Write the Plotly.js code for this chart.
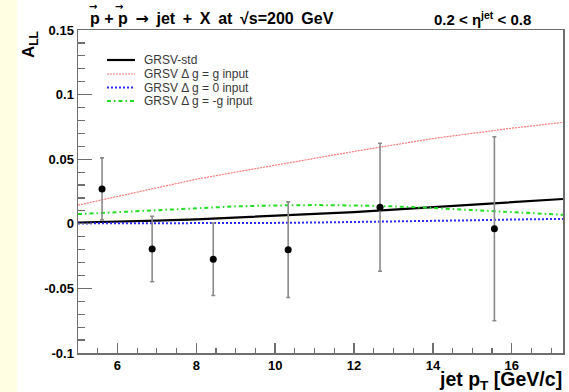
<!DOCTYPE html>
<html>
<head>
<meta charset="utf-8">
<script src="https://cdn.plot.ly/plotly-3.0.1.min.js"></script>
<style>
  html, body { margin: 0; padding: 0; }
  body { background: linear-gradient(to right, #fffee2 0px, #fffee2 17px, #ffffff 17px); }
  #chart { width: 569px; height: 392px; }
</style>
</head>
<body>
<div id="chart"></div>
<script>
// Measured double-spin asymmetry A_LL vs jet pT
const dataPt   = [5.61, 6.88, 8.43, 10.33, 12.66, 15.56];
const dataAll  = [0.027, -0.0195, -0.0275, -0.020, 0.0128, -0.0038];
const dataErr  = [0.024, 0.0254, 0.028, 0.037, 0.0495, 0.0712];

// GRSV theory curves
const curvePt   = [5, 6, 7, 8, 9, 10, 11, 12, 13, 14, 15, 16, 17.3];
const grsvStd   = [0.001, 0.0015, 0.0025, 0.0035, 0.0048, 0.006, 0.0075, 0.009, 0.011, 0.013, 0.015, 0.017, 0.0192];
const grsvMax   = [0.0145, 0.021, 0.028, 0.0345, 0.040, 0.0455, 0.051, 0.056, 0.061, 0.066, 0.070, 0.074, 0.0785];
const grsvZero  = [0.0003, 0.0003, 0.0004, 0.0004, 0.0005, 0.0007, 0.001, 0.0013, 0.0017, 0.0021, 0.0027, 0.0033, 0.0038];
const grsvMin   = [0.0075, 0.009, 0.0105, 0.012, 0.0135, 0.0142, 0.0145, 0.0142, 0.0135, 0.0122, 0.0108, 0.009, 0.007];

const seriesNames = ['GRSV-std', 'GRSV \u0394 g = g input', 'GRSV \u0394 g = 0 input', 'GRSV \u0394 g = -g input'];
const xTicks = [6, 8, 10, 12, 14, 16];
const yTicks = [-0.1, -0.05, 0, 0.05, 0.1, 0.15];
const yTickText = ['-0.1', '-0.05', '0', '0.05', '0.1', '0.15'];

const styles = [
  {color: '#000000', width: 2.2, dash: 'solid'},
  {color: '#ff7a7a', width: 1.2, dash: '2px,1px'},
  {color: '#2a2aff', width: 2, dash: '2px,2px'},
  {color: '#22dd22', width: 2, dash: '4px,3px,1.5px,3px'}
];
const curves = [grsvStd, grsvMax, grsvZero, grsvMin];

const traces = curves.map((ys, i) => ({
  x: curvePt, y: ys, type: 'scatter', mode: 'lines', name: seriesNames[i],
  line: {color: styles[i].color, width: styles[i].width, dash: styles[i].dash},
  hoverinfo: 'skip'
}));

traces.push({
  x: dataPt, y: dataAll, type: 'scatter', mode: 'markers', name: 'data',
  marker: {color: '#000000', size: 7},
  error_y: {type: 'data', array: dataErr, visible: true, color: '#8a8a8a', thickness: 1.6, width: 2}
});

// Plot frame in pixels
const L = 78, R = 563, T = 30, B = 353;
const toPx = x => (x - L) / (R - L);
const toPy = y => 1 - (y - T) / (B - T);

function note(text, x, y, xanchor, size, color, extra) {
  return Object.assign({
    text: text, xref: 'paper', yref: 'paper', x: toPx(x), y: toPy(y),
    xanchor: xanchor, yanchor: 'middle', showarrow: false,
    font: {size: size, color: color}
  }, extra || {});
}

const arrow = '<span style="font-family:DejaVu Sans">\u2192</span>';
const sp = ' \u2009';   // slightly wider word gap, as in the ROOT-style header
const annotations = [
  note('<b>p + p' + sp + arrow + sp + 'jet' + sp + '+' + sp + 'X' + sp + 'at' + sp + '\u221As=200' + sp + 'GeV</b>',
       88, 18, 'left', 16, '#000'),
  // vector arrows over the two protons
  note('<b>' + arrow + '</b>', 92.5, 6, 'center', 10, '#000'),
  note('<b>' + arrow + '</b>', 119, 6, 'center', 10, '#000'),
  note('<b>0.2 &lt; \u03B7<sup>jet</sup> &lt; 0.8</b>', 432, 18, 'left', 15, '#000'),
  note('<b>A<sub>LL</sub></b>', 30, 45, 'center', 17, '#000', {textangle: -90}),
  note('<b>jet p<sub>T</sub> [GeV/c]</b>', 564, 381, 'right', 19.5, '#000')
];

// Legend entries
const legendRows = [60, 74, 87.5, 101];
const shapes = [];
legendRows.forEach((ry, i) => {
  shapes.push({type: 'line', xref: 'paper', yref: 'paper', x0: toPx(107), x1: toPx(135), y0: toPy(ry), y1: toPy(ry),
    line: {color: styles[i].color, width: styles[i].width, dash: styles[i].dash}});
  annotations.push(note(seriesNames[i], 142, ry, 'left', 12, '#383838'));
});

const axisCommon = {
  showgrid: false, zeroline: false, showline: true, mirror: true,
  linecolor: '#6e6e6e', linewidth: 1.5, ticks: 'inside', tickcolor: '#6e6e6e',
  tickwidth: 1.3, tickfont: {family: 'Liberation Sans, Arial, sans-serif', size: 13, color: '#000'}
};

const layout = {
  width: 569, height: 392,
  margin: {l: L, r: 569 - R, t: T, b: 392 - B},
  paper_bgcolor: 'rgba(0,0,0,0)', plot_bgcolor: '#ffffff',
  showlegend: false,
  font: {family: 'Liberation Sans, Arial, sans-serif'},
  xaxis: Object.assign({}, axisCommon, {
    range: [5, 17.3], tickvals: xTicks, ticktext: xTicks.map(v => '<b>' + v + '</b>'), ticklen: 10,
    minor: {dtick: 0.5, ticklen: 5, ticks: 'inside', tickcolor: '#6e6e6e', tickwidth: 1.2}
  }),
  yaxis: Object.assign({}, axisCommon, {
    range: [-0.1, 0.15], tickvals: yTicks, ticktext: yTickText.map(v => '<b>' + v + '</b>'), ticklen: 14,
    minor: {dtick: 0.01, ticklen: 7, ticks: 'inside', tickcolor: '#6e6e6e', tickwidth: 1.2}
  }),
  annotations: annotations,
  shapes: shapes
};

Plotly.newPlot('chart', traces, layout, {displayModeBar: false, staticPlot: true});
</script>
</body>
</html>
